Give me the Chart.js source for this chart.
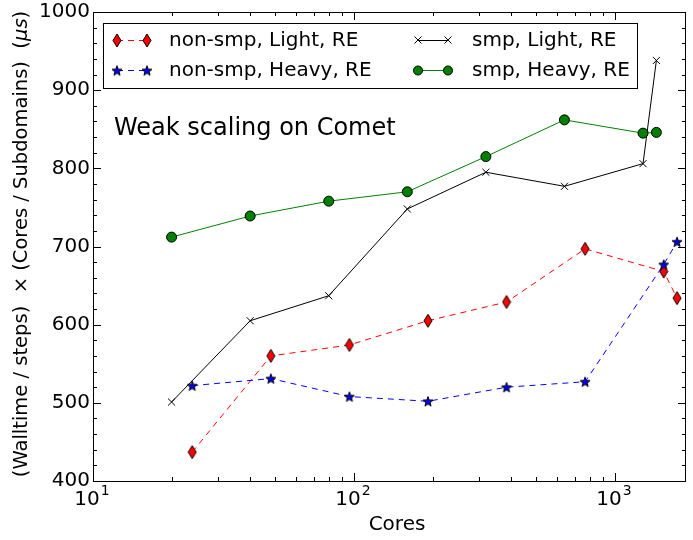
<!DOCTYPE html>
<html>
<head>
<meta charset="utf-8">
<script src="https://cdn.jsdelivr.net/npm/chart.js@4.4.1/dist/chart.umd.min.js"></script>
<style>
  body { margin: 0; background: #fff; }
  #wrap { width: 693px; height: 540px; }
</style>
</head>
<body>
<div id="wrap"><canvas id="chart" width="693" height="540"></canvas></div>
<script>
// data
const coresNonSmp = [24, 48, 96, 192, 384, 768, 1536, 1728];
const coresSmp = [20, 40, 80, 160, 320, 640, 1280, 1440];
const nonSmpLight = [437, 560, 574, 605, 629, 697, 668, 634];
const nonSmpHeavy = [522, 531, 508, 502, 520, 527, 677, 706];
const smpLight = [501, 605, 637, 748, 795, 777, 806, 938];
const smpHeavy = [712, 739, 758, 770, 815, 862, 845, 846];
const xTicks = [10, 20, 30, 40, 50, 60, 70, 80, 90, 100, 200, 300, 400, 500, 600, 700, 800, 900, 1000];
const xMajor = {10: '1', 100: '2', 1000: '3'};
const yTicks = [];
for (let v = 400; v <= 1000; v += 20) yTicks.push(v);

const FONT = '"DejaVu Sans", sans-serif';

// marker images
function diamondImg(fill) {
  const c = document.createElement('canvas');
  c.width = 10; c.height = 15;
  const g = c.getContext('2d');
  g.beginPath();
  g.moveTo(5, 1); g.lineTo(9, 7.5); g.lineTo(5, 14); g.lineTo(1, 7.5); g.closePath();
  g.fillStyle = fill; g.fill();
  g.strokeStyle = '#000'; g.lineWidth = 1; g.stroke();
  return c;
}
function starImg(fill) {
  const c = document.createElement('canvas');
  c.width = 12; c.height = 12;
  const g = c.getContext('2d');
  g.beginPath();
  for (let i = 0; i < 10; i++) {
    const r = i % 2 === 0 ? 5.2 : 2.2;
    const a = -Math.PI / 2 + i * Math.PI / 5;
    const px = 6 + r * Math.cos(a), py = 6.5 + r * Math.sin(a);
    if (i === 0) g.moveTo(px, py); else g.lineTo(px, py);
  }
  g.closePath();
  g.fillStyle = fill; g.fill();
  g.strokeStyle = '#000'; g.lineWidth = 1; g.stroke();
  return c;
}
const diamond = diamondImg('#ff0000');
const star = starImg('#0000ff');

function toXY(xs, ys) {
  return xs.map((x, i) => ({x: x, y: ys[i]}));
}

const series = [
  {label: 'non-smp, Light, RE', data: toXY(coresNonSmp, nonSmpLight), borderColor: '#ff0000', borderDash: [6, 5],
   pointStyle: diamond, order: 3},
  {label: 'non-smp, Heavy, RE', data: toXY(coresNonSmp, nonSmpHeavy), borderColor: '#0000ff', borderDash: [6, 5],
   pointStyle: star, order: 2},
  {label: 'smp, Light, RE', data: toXY(coresSmp, smpLight), borderColor: '#000000',
   pointStyle: 'crossRot', pointRadius: 5, pointBorderColor: '#000', order: 1},
  {label: 'smp, Heavy, RE', data: toXY(coresSmp, smpHeavy), borderColor: '#008000',
   pointStyle: 'circle', pointRadius: 5, pointBackgroundColor: '#008000', pointBorderColor: '#000', order: 0}
];

// frame, inward ticks, legend and texts
const decor = {
  id: 'decor',
  afterDraw(c) {
    const ctx = c.ctx, a = c.chartArea;
    const xs = c.scales.x, ys = c.scales.y;
    ctx.save();
    ctx.strokeStyle = '#000';
    ctx.lineWidth = 1;
    ctx.beginPath();
    xTicks.forEach(v => {
      const px = Math.round(xs.getPixelForValue(v)) + 0.5;
      const len = xMajor[v] ? 8 : 4;
      ctx.moveTo(px, a.bottom); ctx.lineTo(px, a.bottom - len);
      ctx.moveTo(px, a.top); ctx.lineTo(px, a.top + len);
    });
    yTicks.forEach(v => {
      const py = Math.round(ys.getPixelForValue(v)) + 0.5;
      const len = v % 100 === 0 ? 8 : 4;
      ctx.moveTo(a.left, py); ctx.lineTo(a.left + len, py);
      ctx.moveTo(a.right, py); ctx.lineTo(a.right - len, py);
    });
    ctx.stroke();
    ctx.strokeRect(Math.round(a.left) + 0.5, Math.round(a.top) + 0.5,
                   Math.round(a.right - a.left) - 1, Math.round(a.bottom - a.top));

    // x tick labels 10^n
    ctx.fillStyle = '#000';
    ctx.textBaseline = 'alphabetic';
    ctx.textAlign = 'left';
    Object.keys(xMajor).forEach(k => {
      const px = xs.getPixelForValue(Number(k));
      ctx.font = '20px ' + FONT;
      const wb = ctx.measureText('10').width;
      ctx.font = '14px ' + FONT;
      const we = ctx.measureText(xMajor[k]).width;
      const sx = px - 1 - (wb + we + 1) / 2;
      ctx.font = '20px ' + FONT;
      ctx.fillText('10', sx, 505);
      ctx.font = '14px ' + FONT;
      ctx.fillText(xMajor[k], sx + wb + 1, 495);
    });

    // title inside the plot
    ctx.font = '24px ' + FONT;
    ctx.fillText('Weak scaling on Comet', 114, 135);

    // legend box
    ctx.fillStyle = '#fff';
    ctx.fillRect(103.5, 23.5, 534, 65);
    ctx.strokeRect(103.5, 23.5, 534, 65);
    const rows = [[117, 40, 52], [117, 70, 52], [418, 40, 54], [418, 70, 54]];
    series.forEach((s, i) => {
      const [lx, ly, tx] = rows[i];
      ctx.save();
      ctx.strokeStyle = s.borderColor;
      ctx.lineWidth = 1;
      ctx.setLineDash(s.borderDash || []);
      ctx.beginPath();
      ctx.moveTo(lx, ly + 0.5); ctx.lineTo(lx + 30, ly + 0.5);
      ctx.stroke();
      ctx.restore();
      [lx, lx + 30].forEach(mx => {
        if (s.pointStyle instanceof HTMLCanvasElement) {
          const img = s.pointStyle;
          ctx.drawImage(img, mx - img.width / 2, ly - img.height / 2 + 0.5);
        } else if (s.pointStyle === 'crossRot') {
          ctx.beginPath();
          ctx.moveTo(mx - 3.5, ly - 3.5); ctx.lineTo(mx + 3.5, ly + 3.5);
          ctx.moveTo(mx - 3.5, ly + 3.5); ctx.lineTo(mx + 3.5, ly - 3.5);
          ctx.stroke();
        } else {
          ctx.beginPath();
          ctx.arc(mx, ly + 0.5, 4.5, 0, Math.PI * 2);
          ctx.fillStyle = '#008000'; ctx.fill();
          ctx.stroke();
        }
      });
      ctx.fillStyle = '#000';
      ctx.font = '20px ' + FONT;
      ctx.textBaseline = 'middle';
      ctx.fillText(s.label, lx + tx, ly + 1);
    });

    // axis titles
    ctx.font = '20px ' + FONT;
    ctx.textAlign = 'center';
    ctx.textBaseline = 'middle';
    ctx.fillText('Cores', 397, 525);

    ctx.translate(22, 244);
    ctx.rotate(-Math.PI / 2);
    const p1 = '(Walltime / steps)  \u00d7 (Cores / Subdomains)  (';
    const p2 = '\u03bcs';
    const p3 = ')';
    const fs = '19.5px ';
    ctx.font = fs + FONT;
    const w1 = ctx.measureText(p1).width, w3 = ctx.measureText(p3).width;
    ctx.font = 'italic ' + fs + FONT;
    const w2 = ctx.measureText(p2).width;
    let sx = -(w1 + w2 + w3) / 2;
    ctx.textAlign = 'left';
    ctx.font = fs + FONT;
    ctx.fillText(p1, sx, 0);
    ctx.font = 'italic ' + fs + FONT;
    ctx.fillText(p2, sx + w1, 0);
    ctx.font = fs + FONT;
    ctx.fillText(p3, sx + w1 + w2, 0);
    ctx.restore();
  }
};

new Chart(document.querySelector('#chart').getContext('2d'), {
  type: 'line',
  data: {
    datasets: series.map(s => Object.assign({
      borderWidth: 1,
      fill: false,
      tension: 0,
      pointRadius: 6,
      pointBorderWidth: 1
    }, s))
  },
  options: {
    responsive: false,
    devicePixelRatio: 1,
    animation: false,
    layout: {padding: {top: 12, right: 2, left: 0, bottom: 0}},
    plugins: {legend: {display: false}, tooltip: {enabled: false}},
    scales: {
      x: {
        type: 'logarithmic',
        min: 10,
        max: 1870,
        grid: {display: false, drawTicks: false},
        border: {display: false},
        afterBuildTicks: s => { s.ticks = xTicks.map(v => ({value: v})); },
        afterFit: s => { s.height = 59; s.paddingLeft = 0; s.paddingRight = 0; },
        ticks: {display: false}
      },
      y: {
        type: 'linear',
        min: 400,
        max: 1000,
        grid: {display: false, drawTicks: false},
        border: {display: false},
        afterBuildTicks: s => { s.ticks = yTicks.map(v => ({value: v})); },
        afterFit: s => { s.width = 93; s.paddingTop = 0; s.paddingBottom = 0; },
        ticks: {
          autoSkip: false,
          padding: 3,
          color: '#000',
          font: {family: FONT, size: 20},
          callback: v => (v % 100 === 0 ? String(v) : '')
        }
      }
    }
  },
  plugins: [decor]
});
</script>
</body>
</html>
